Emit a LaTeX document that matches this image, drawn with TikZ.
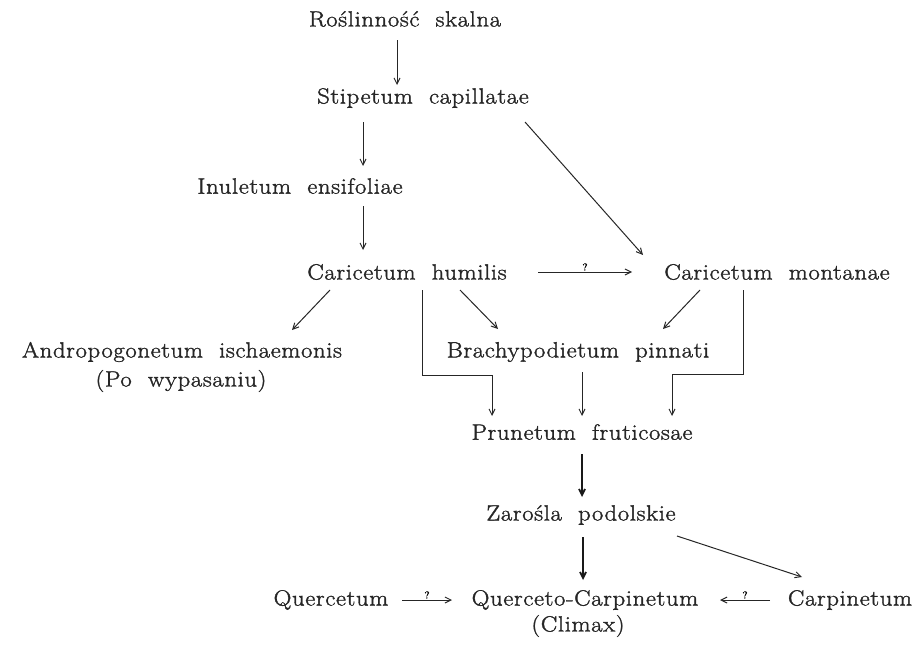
\documentclass[tikz,border=0pt]{standalone}
\usepackage{fontspec}
\setmainfont{Latin Modern Roman}[LetterSpace=3,WordSpace=2,FakeStretch=1.12,FakeBold=1.5]
\usetikzlibrary{arrows.meta,positioning}
\tikzset{
  assoc/.style={font=\fontsize{22}{26}\selectfont, inner sep=2pt, text=black!85},
  succ/.style={-{Straight Barb[length=6pt,width=6pt]}, line width=1pt, draw=black!85},
  succb/.style={succ, line width=1.8pt, draw=black!90},
  qlab/.style={midway, above=0pt, font=\fontsize{10}{10}\selectfont, inner sep=1pt},
}

\begin{document}
\begin{tikzpicture}[x=1pt, y=-1pt]
\useasboundingbox (0,0) rectangle (922,645);
% associations
\node[assoc] (rock)  at (405,19)  {Roślinność skalna};
\node[assoc] (stip)  at (423,98)  {Stipetum capillatae};
\node[assoc] (inul)  at (300,186) {Inuletum ensifoliae};
\node[assoc] (chum)  at (407,272) {Caricetum humilis};
\node[assoc] (cmont) at (777,272) {Caricetum montanae};
\node[assoc] (andro) at (182,352) {Andropogonetum ischaemonis};
\node[assoc] (graz)  at (181,381) {(Po wypasaniu)};
\node[assoc] (brach) at (578,352) {Brachypodietum pinnati};
\node[assoc] (prun)  at (582,432) {Prunetum fruticosae};
\node[assoc] (zar)   at (581,515) {Zarośla podolskie};
\node[assoc] (quer)  at (331,600) {Quercetum};
\node[assoc] (qc)    at (585,600) {Querceto-Carpinetum};
\node[assoc] (clim)  at (578,626) {(Climax)};
\node[assoc] (carp)  at (850,600) {Carpinetum};

% succession
\draw[succ] ([shift={(-8,21)}]rock.center) -- ([shift={(-26,-13)}]stip.center);
\draw[succ] ([shift={(-60,24)}]stip.center) -- ([shift={(63,-20)}]inul.center);
\draw[succ] ([shift={(63,20)}]inul.center) -- ([shift={(-44,-22)}]chum.center);
\draw[succ] ([shift={(131,0)}]chum.center) -- node[qlab] {?} ([shift={(-145,0)}]cmont.center);
\draw[succ] ([shift={(102,24)}]stip.center) -- ([shift={(-134,-17)}]cmont.center);
\draw[succ] ([shift={(-77,18)}]chum.center) -- ([shift={(110,-22)}]andro.center);
\draw[succ] ([shift={(53,18)}]chum.center) -- ([shift={(-80,-23)}]brach.center);
\draw[succ] ([shift={(-77,18)}]cmont.center) -- ([shift={(85,-23)}]brach.center);
\draw[succ] ([shift={(15,18)}]chum.center) |- ([shift={(-90,-57)}]prun.center)
  -- ([shift={(-90,-16)}]prun.center);
\draw[succ] ([shift={(4,20)}]brach.center) -- ([shift={(0,-16)}]prun.center);
\draw[succ] ([shift={(-34,18)}]cmont.center) |- ([shift={(90,-58)}]prun.center)
  -- ([shift={(90,-16)}]prun.center);
\draw[succb] ([shift={(0,22)}]prun.center) -- ([shift={(1,-18)}]zar.center);
\draw[succb] ([shift={(2,22)}]zar.center) -- ([shift={(-2,-20)}]qc.center);
\draw[succ] ([shift={(96,21)}]zar.center) -- ([shift={(-48,-23)}]carp.center);
\draw[succ] ([shift={(71,0)}]quer.center) -- node[qlab] {?} ([shift={(-133,0)}]qc.center);
\draw[succ] ([shift={(-80,0)}]carp.center) -- node[qlab] {?} ([shift={(135,0)}]qc.center);
\end{tikzpicture}
\end{document}
